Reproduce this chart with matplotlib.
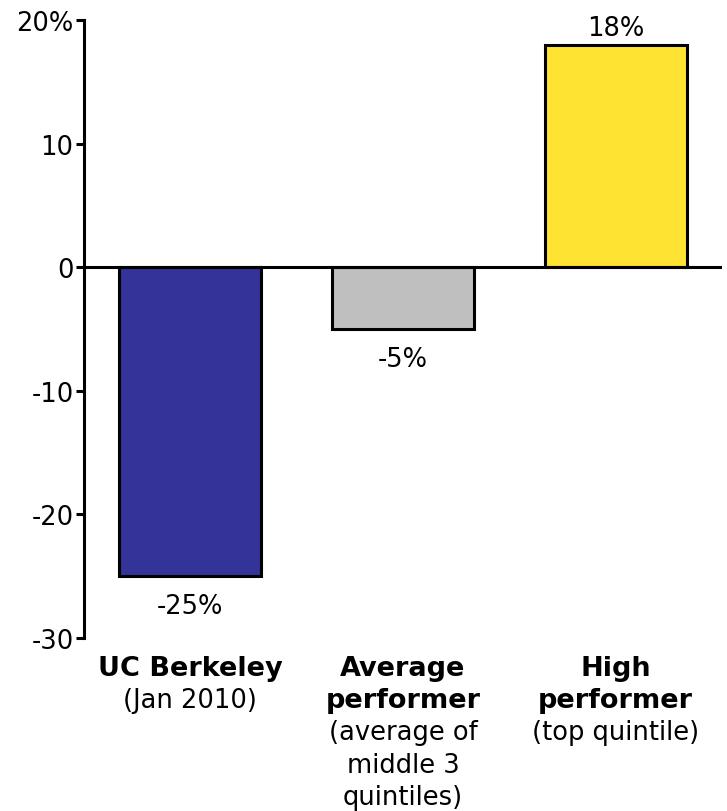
import matplotlib
matplotlib.use("Agg")
import matplotlib.pyplot as plt
from matplotlib.transforms import blended_transform_factory

categories_bold = [["UC Berkeley"], ["Average", "performer"], ["High", "performer"]]
categories_sub = [["(Jan 2010)"], ["(average of", "middle 3", "quintiles)"], ["(top quintile)"]]
values = [-25, -5, 18]
value_labels = ["-25%", "-5%", "18%"]
colors = ["#333399", "#BFBFBF", "#FFE333"]
yticks = [-30, -20, -10, 0, 10, 20]
ytick_labels = ["-30", "-20", "-10", "0", "10", "20%"]

plt.rcParams['font.family'] = ['DejaVu Sans']
fs = 18.5
fs_bold = 19.5

fig = plt.figure(figsize=(7.27, 8.12), dpi=100)
ax = fig.add_axes([0.1155, 0.213, 0.993 - 0.1155, 0.974 - 0.213])

x = list(range(len(values)))
ax.bar(x, values, width=0.667, color=colors, edgecolor="black", linewidth=2.2, zorder=2)
ax.axhline(0, color="black", linewidth=2.2, zorder=3)

ax.set_xlim(-0.5, 2.5)
ax.set_ylim(-30, 20)
ax.set_yticks(yticks)
ax.set_yticklabels(ytick_labels, fontsize=fs)
ax.set_xticks([])
for s in ["top", "right", "bottom"]:
    ax.spines[s].set_visible(False)
ax.spines["left"].set_linewidth(2.2)
ax.tick_params(axis="y", length=5.5, width=2.2, pad=2)

for xi, v, lab in zip(x, values, value_labels):
    if v >= 0:
        ax.annotate(lab, (xi, v), xytext=(0, 3), textcoords="offset points",
                    ha="center", va="bottom", fontsize=fs)
    else:
        ax.annotate(lab, (xi, v), xytext=(0, -12), textcoords="offset points",
                    ha="center", va="top", fontsize=fs)

trans = blended_transform_factory(ax.transData, ax.transAxes)
line_gap = 23.2
for xi, bl, sl in zip(x, categories_bold, categories_sub):
    k = 0
    for t in bl:
        ax.annotate(t, (xi, 0), xycoords=trans, xytext=(0, -21.5 - line_gap * k),
                    textcoords="offset points", ha="center", va="center",
                    fontsize=fs_bold, fontweight="bold", annotation_clip=False)
        k += 1
    for t in sl:
        ax.annotate(t, (xi, 0), xycoords=trans, xytext=(0, -21.5 - line_gap * k),
                    textcoords="offset points", ha="center", va="center",
                    fontsize=fs, annotation_clip=False)
        k += 1

fig.savefig("out.png", dpi=100)
